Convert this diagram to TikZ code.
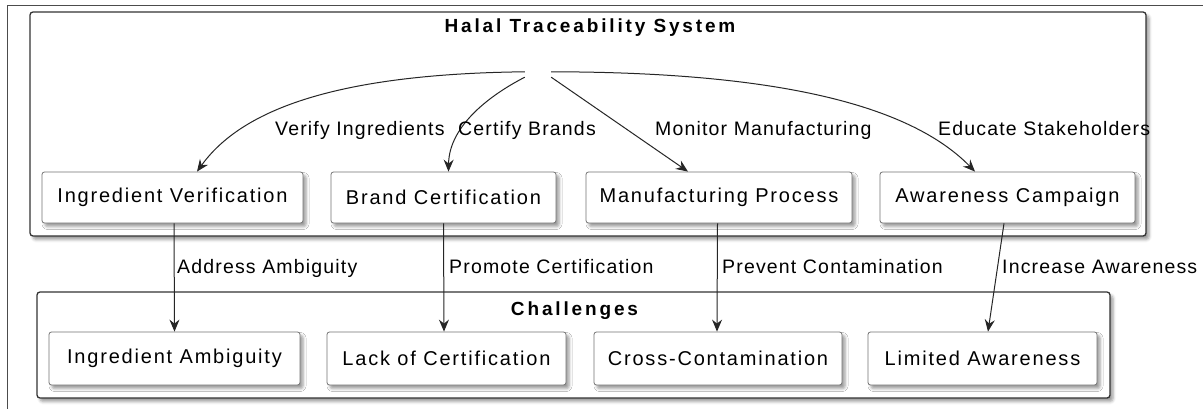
\documentclass[tikz,border=0pt]{standalone}
\usepackage{fontspec}
\setmainfont{Liberation Sans}[LetterSpace=6]
\newfontfamily\boxfont{Liberation Sans}[LetterSpace=9]
\newfontfamily\titlefont{Liberation Sans}[LetterSpace=15]
\usetikzlibrary{arrows.meta,shadows.blur}
\begin{document}
\begin{tikzpicture}[x=1pt,y=-1pt,
  shad/.style={blur shadow={shadow xshift=3pt,shadow yshift=-3.5pt,shadow opacity=40,shadow blur radius=3pt}},
  box/.style={draw=black!55,fill=white,rounded corners=2.5pt,line width=0.8pt,
    minimum height=51pt,inner sep=0pt,font=\boxfont\fontsize{20}{24}\selectfont,shad},
  cluster/.style={draw=black!80,fill=white,rounded corners=3pt,line width=1.3pt,inner sep=0pt,shad},
  ctitle/.style={anchor=base,inner sep=0pt,font=\titlefont\bfseries\fontsize{19}{22}\selectfont},
  elabel/.style={anchor=base west,inner sep=0pt,font=\fontsize{19.5}{23}\selectfont},
  arr/.style={draw=black!85,line width=1pt,-{Stealth[length=12pt,width=10pt,inset=4pt]}}
]
\useasboundingbox (0,0) rectangle (1203,409);
\draw[black!70,line width=1pt] (1203,6) -- (7.5,6) -- (7.5,409);

% clusters
\node[cluster,minimum width=1116pt,minimum height=224pt] (sys) at (588,124) {};
\node[ctitle] (systitle) at (590,33) {Halal Traceability System};
\node[cluster,minimum width=1073pt,minimum height=106pt] (chl) at (573.5,345) {};
\node[ctitle] (chltitle) at (574.5,315.5) {Challenges};

% source
\node[inner sep=0pt,minimum width=26pt,minimum height=5pt] (src) at (538,74.5) {};

% row 1
\node[box,minimum width=261pt] (iv) at (172.5,197.5) {Ingredient Verification};
\node[box,minimum width=225pt] (bc) at (443.5,197.5) {Brand Certification};
\node[box,minimum width=266pt] (mp) at (719,197.5) {Manufacturing Process};
\node[box,minimum width=255pt] (ac) at (1007.5,197.5) {Awareness Campaign};

% row 2
\node[box,minimum width=251pt,minimum height=53pt] (ia) at (174.5,358.5) {Ingredient Ambiguity};
\node[box,minimum width=239pt,minimum height=53pt] (lc) at (446.5,358.5) {Lack of Certification};
\node[box,minimum width=248pt,minimum height=53pt] (cc) at (718,358.5) {Cross-Contamination};
\node[box,minimum width=229pt,minimum height=53pt] (la) at (982.5,358.5) {Limited Awareness};

% edges from source
\draw[arr] (src.north west) .. controls (330,74) and (240,112) .. ([xshift=24.5pt]iv.north);
\draw[arr] (src.south west) .. controls (492,94) and (449,125) .. ([xshift=5pt]bc.north);
\draw[arr] (src.south east) -- ([xshift=-31pt]mp.north);
\draw[arr] (src.north east) .. controls (760,72) and (905,100) .. ([xshift=-32.5pt]ac.north);

\node[elabel] (l1) at (275,136) {Verify Ingredients};
\node[elabel] (l2) at (458,136) {Certify Brands};
\node[elabel] (l3) at (655,136) {Monitor Manufacturing};
\node[elabel] (l4) at (938,136) {Educate Stakeholders};

% edges down
\draw[arr] ([xshift=1.5pt]iv.south) -- (ia.north);
\draw[arr] (bc.south) -- ([xshift=-2.5pt]lc.north);
\draw[arr] ([xshift=-1.5pt]mp.south) -- ([xshift=-1pt]cc.north);
\draw[arr] ([xshift=-3.5pt]ac.south) -- ([xshift=5.5pt]la.north);

\node[elabel] (l5) at (177,273) {Address Ambiguity};
\node[elabel] (l6) at (449,273) {Promote Certification};
\node[elabel] (l7) at (722,273) {Prevent Contamination};
\node[elabel] (l8) at (1002,273) {Increase Awareness};
\end{tikzpicture}
\end{document}
